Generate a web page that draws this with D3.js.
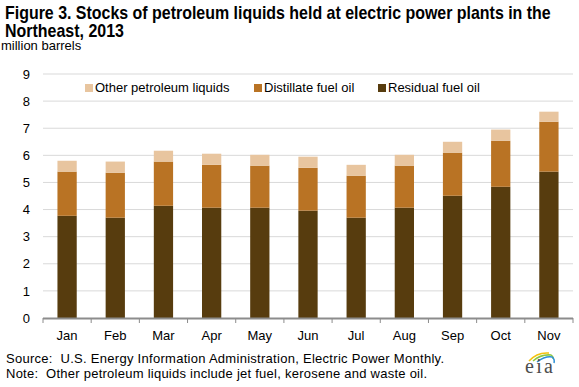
<!DOCTYPE html>
<html lang="en">
<head>
  <meta charset="UTF-8">
  <title>Stocks of petroleum liquids, Northeast 2013</title>
  <style>
    body {
      margin: 0;
      padding: 0;
      background-color: #fff;
      font-family: "Liberation Sans", Arial, sans-serif;
    }

    .title {
      font-family: "Liberation Sans", Arial, sans-serif;
      font-weight: bold;
      font-size: 17.5px;
      fill: #000;
    }

    .unit, .note {
      font-size: 13px;
      fill: #000;
      white-space: pre;
    }

    .axis text {
      font-size: 13px;
      fill: #000;
    }

    .legend text {
      font-size: 13px;
      fill: #000;
    }
  </style>
</head>
<body>
  <div class="chart"></div>

  <script src="https://d3js.org/d3.v7.min.js"></script>
  <script>
    const months = ["Jan", "Feb", "Mar", "Apr", "May", "Jun", "Jul", "Aug", "Sep", "Oct", "Nov"];
    const residual = [3.77, 3.70, 4.14, 4.07, 4.07, 3.96, 3.70, 4.07, 4.51, 4.84, 5.40];
    const distillate = [1.63, 1.66, 1.63, 1.58, 1.55, 1.58, 1.55, 1.55, 1.59, 1.70, 1.84];
    const other = [0.40, 0.41, 0.40, 0.41, 0.40, 0.41, 0.40, 0.40, 0.40, 0.41, 0.37];
    const yTicks = [0, 1, 2, 3, 4, 5, 6, 7, 8, 9];

    const seriesKeys = ["residual", "distillate", "other"];
    const seriesNames = {
      residual: "Residual fuel oil",
      distillate: "Distillate fuel oil",
      other: "Other petroleum liquids"
    };
    const colors = {
      residual: "#573c0e",
      distillate: "#b97324",
      other: "#e8c59f"
    };

    const W = 579, H = 387;
    const margin = { top: 74, right: 6, bottom: 69, left: 43 };
    const width = W - margin.left - margin.right;
    const height = H - margin.top - margin.bottom;

    const root = d3.select(".chart")
      .append("svg")
        .attr("width", W)
        .attr("height", H);

    // Titles: no narrow font installed, so squeeze the bold face horizontally
    function squeezed(cls, x, y, target, str) {
      const t = root.append("text").attr("class", cls).text(str);
      const natural = t.node().getComputedTextLength();
      const k = Math.min(1, target / natural);
      t.attr("transform", `translate(${x},${y}) scale(${k},1)`);
      return t;
    }
    squeezed("title", 5, 18.5, 546, "Figure 3. Stocks of petroleum liquids held at electric power plants in the");
    squeezed("title", 5, 36.5, 119, "Northeast, 2013");
    root.append("text").attr("class", "unit")
      .attr("x", 1).attr("y", 49.5)
      .text("million barrels");

    const svg = root.append("g")
      .attr("transform", `translate(${margin.left},${margin.top})`);

    // Data
    const data = months.map((m, i) => ({
      month: m,
      residual: residual[i],
      distillate: distillate[i],
      other: other[i]
    }));
    const stacked = d3.stack().keys(seriesKeys)(data);

    // Scales
    const xScale = d3.scaleBand()
      .domain(months)
      .range([0, width])
      .paddingInner(0.6)
      .paddingOuter(0.3);

    const yScale = d3.scaleLinear()
      .domain([0, 9])
      .range([height, 0]);

    // Gridlines
    svg.append("g")
      .selectAll("line")
      .data(yTicks.slice(1))
      .join("line")
        .attr("x1", 0)
        .attr("x2", width)
        .attr("y1", d => yScale(d))
        .attr("y2", d => yScale(d))
        .attr("stroke", "#d9d9d9")
        .attr("stroke-width", 1);

    // Bars
    svg.append("g")
      .selectAll("g")
      .data(stacked)
      .join("g")
        .attr("fill", d => colors[d.key])
      .selectAll("rect")
      .data(d => d)
      .join("rect")
        .attr("x", d => xScale(d.data.month))
        .attr("width", xScale.bandwidth())
        .attr("y", d => yScale(d[1]))
        .attr("height", d => yScale(d[0]) - yScale(d[1]));

    // Y axis (labels only)
    const yAxis = svg.append("g")
      .attr("class", "axis")
      .call(d3.axisLeft(yScale).tickValues(yTicks).tickSize(0).tickPadding(13));
    yAxis.select(".domain").remove();

    // X axis
    const step = xScale.step();
    const xAxis = svg.append("g")
      .attr("class", "axis")
      .attr("transform", `translate(0,${height})`)
      .call(d3.axisBottom(xScale).tickSize(0).tickPadding(13));
    xAxis.select(".domain").remove();

    xAxis.append("g")
      .selectAll("line")
      .data(d3.range(months.length + 1))
      .join("line")
        .attr("x1", i => i * step)
        .attr("x2", i => i * step)
        .attr("y1", 0)
        .attr("y2", 5)
        .attr("stroke", "#8c8c8c")
        .attr("stroke-width", 1);

    xAxis.append("line")
      .attr("x1", 0)
      .attr("x2", width)
      .attr("y1", 0.5)
      .attr("y2", 0.5)
      .attr("stroke", "#8c8c8c")
      .attr("stroke-width", 2);

    // Legend
    const legendItems = [
      { key: "other", x: 85 },
      { key: "distillate", x: 254 },
      { key: "residual", x: 378 }
    ];
    const legend = root.append("g").attr("class", "legend");
    const li = legend.selectAll("g")
      .data(legendItems)
      .join("g")
        .attr("transform", d => `translate(${d.x},84)`);
    li.append("rect")
      .attr("width", 8)
      .attr("height", 8)
      .attr("fill", d => colors[d.key]);
    li.append("text")
      .attr("x", 10)
      .attr("y", 8)
      .text(d => seriesNames[d.key]);

    // Notes
    root.append("text").attr("class", "note")
      .attr("x", 6).attr("y", 363)
      .attr("textLength", 438)
      .text("Source:  U.S. Energy Information Administration, Electric Power Monthly.");
    root.append("text").attr("class", "note")
      .attr("x", 6).attr("y", 378)
      .attr("textLength", 421)
      .text("Note:  Other petroleum liquids include jet fuel, kerosene and waste oil.");

    // eia logo
    const logo = root.append("g").attr("transform", "translate(525,351)");
    logo.append("path")
      .attr("d", "M4,10 Q12,1 24,2")
      .attr("fill", "none").attr("stroke", "#f4c20d").attr("stroke-width", 1.5);
    logo.append("path")
      .attr("d", "M8,10 Q16,3 26,4 Q29,6 28,8")
      .attr("fill", "none").attr("stroke", "#8cc63f").attr("stroke-width", 1.5);
    logo.append("path")
      .attr("d", "M12,11 Q20,5 27,6 Q30,8 29,12")
      .attr("fill", "none").attr("stroke", "#2a8fd6").attr("stroke-width", 1.5);
    logo.append("text")
      .attr("x", 0).attr("y", 22)
      .attr("font-family", "Liberation Serif, serif")
      .attr("font-size", 20)
      .attr("textLength", 28)
      .attr("fill", "#4d4d4d")
      .text("eia");
  </script>
</body>
</html>
